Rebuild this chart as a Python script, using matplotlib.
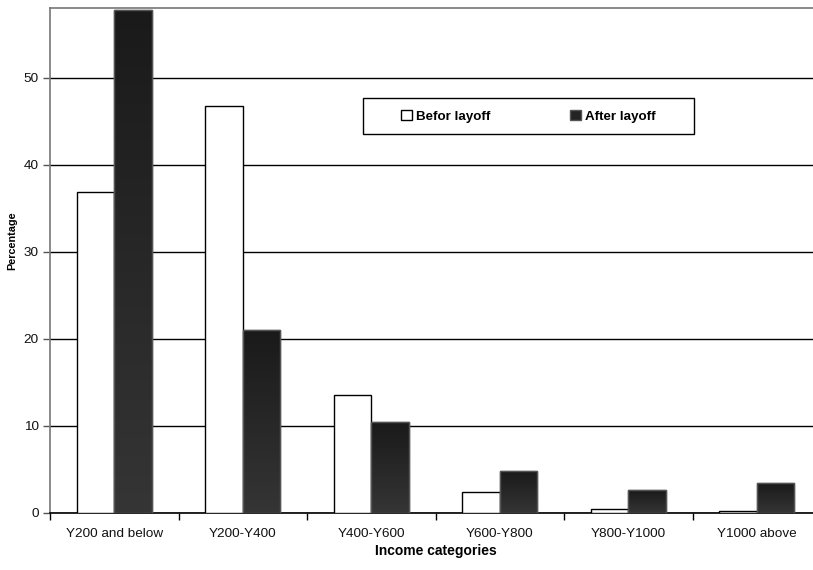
import matplotlib
matplotlib.use("Agg")
import matplotlib.pyplot as plt
from matplotlib.patches import Rectangle, Patch
from matplotlib.colors import LinearSegmentedColormap
import numpy as np

categories = ["Y200 and below", "Y200-Y400", "Y400-Y600", "Y600-Y800", "Y800-Y1000", "Y1000 above"]
before = [36.8, 46.7, 13.5, 2.4, 0.4, 0.2]
after = [57.8, 21.0, 10.4, 4.8, 2.6, 3.4]
yticks = [0, 10, 20, 30, 40, 50]

plt.rcParams['font.family'] = ['Liberation Sans', 'DejaVu Sans']

W, H = 813, 570
fig = plt.figure(figsize=(W / 100, H / 100), dpi=100)
left, right, bottom, top = 50, 821, 512.7, 8
ax = fig.add_axes([left / W, (H - bottom) / H, (right - left) / W, (bottom - top) / H])

x = np.arange(len(categories))
bw = 0.29
ax.bar(x - bw / 2, before, width=bw, color='white', edgecolor='black', linewidth=1.0, zorder=3)
dark = ax.bar(x + bw / 2, after, width=bw, color='#242424', edgecolor='#555555', linewidth=1.0, zorder=3)

ax.set_xlim(-0.5, len(categories) - 0.5)
ax.set_ylim(0, 58)

# vertical gradient inside dark bars
cmap = LinearSegmentedColormap.from_list('g', ['#353535', '#1a1a1a'])
grad = np.linspace(0, 1, 256).reshape(-1, 1)
for rect in dark:
    x0, w, h = rect.get_x(), rect.get_width(), rect.get_height()
    im = ax.imshow(grad, cmap=cmap, origin='lower', aspect='auto',
                   extent=(x0, x0 + w, 0, h), zorder=3.5, interpolation='bilinear')
    im.set_clip_path(rect)
for rect in dark:
    ax.add_patch(Rectangle((rect.get_x(), 0), rect.get_width(), rect.get_height(),
                           facecolor='none', edgecolor='#555555', linewidth=1.0, zorder=4))
ax.set_xlim(-0.5, len(categories) - 0.5)
ax.set_ylim(0, 58)
ax.set_aspect('auto')

ax.set_yticks(yticks)
ax.set_yticklabels([str(v) for v in yticks], fontsize=9.7, color='#111111')
ax.tick_params(axis='y', length=5, width=1, color='#555555', pad=3)

ax.set_xticks(np.arange(len(categories) + 1) - 0.5)
ax.set_xticklabels([])
ax.tick_params(axis='x', which='major', length=5, width=1, color='black')
ax.set_xticks(x, minor=True)
ax.set_xticklabels(categories, minor=True, fontsize=9.7, color='#111111')
ax.tick_params(axis='x', which='minor', length=0, pad=11)

ax.yaxis.grid(True, color='black', linewidth=1.0, zorder=0)
ax.set_axisbelow(True)
for s in ['top', 'left']:
    ax.spines[s].set_color('#777777')
    ax.spines[s].set_linewidth(1.2)
ax.spines['bottom'].set_color('black')
ax.spines['bottom'].set_linewidth(1.2)
ax.spines['right'].set_visible(False)

ax.set_xlabel("Income categories", fontsize=10, fontweight='bold', labelpad=3)
ax.set_ylabel("Percentage", fontsize=7.8, fontweight='bold', labelpad=5)
ax.yaxis.label.set_y(0.539)

# legend frame
lx0, lx1, ly0, ly1 = 362.7, 694, 98.3, 134.3
fig.patches.append(Rectangle((lx0 / W, (H - ly1) / H), (lx1 - lx0) / W, (ly1 - ly0) / H,
                             transform=fig.transFigure, facecolor='white', edgecolor='black',
                             linewidth=1.0, zorder=5))
handles = [Patch(facecolor='white', edgecolor='black', label='Befor layoff'),
           Patch(facecolor='#242424', edgecolor='#555555', label='After layoff')]
leg = fig.legend(handles=handles, loc='center', ncol=2, frameon=False,
                 bbox_to_anchor=((lx0 + lx1) / 2 / W, (H - (ly0 + ly1) / 2) / H),
                 prop={'weight': 'bold', 'size': 9.6},
                 handlelength=0.8, handleheight=0.8, handletextpad=0.3, columnspacing=6.0)
leg.set_zorder(6)

fig.savefig("out.png", dpi=100)
